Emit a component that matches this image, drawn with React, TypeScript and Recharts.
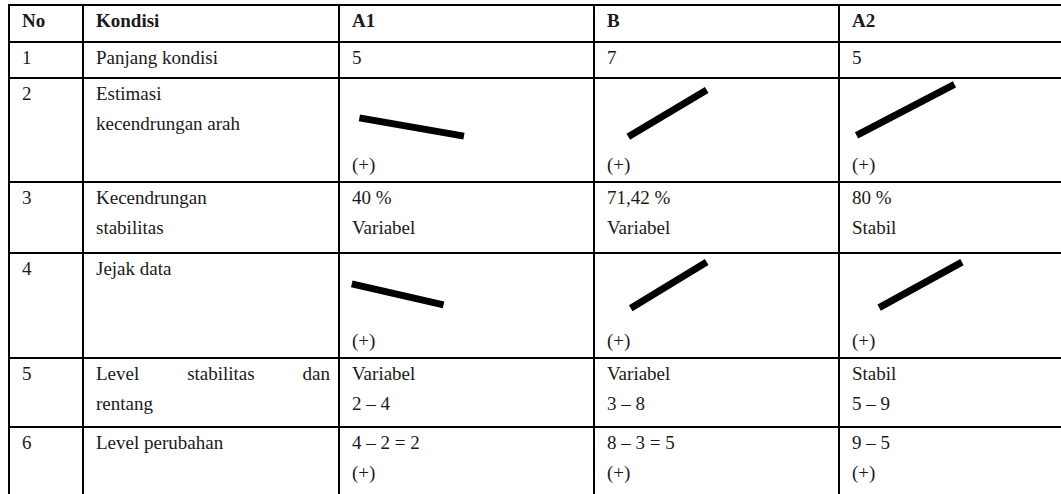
import React from "react";
import { LineChart, Line, XAxis, YAxis } from "recharts";

// table text
const headers = ["No", "Kondisi", "A1", "B", "A2"];
const nomor = ["1", "2", "3", "4", "5", "6"];
const kondisi = [
  ["Panjang kondisi"],
  ["Estimasi", "kecendrungan arah"],
  ["Kecendrungan", "stabilitas"],
  ["Jejak data"],
  ["Level stabilitas dan", "rentang"],
  ["Level perubahan"],
];
const panjang = ["5", "7", "5"];
const arahTanda = ["(+)", "(+)", "(+)"];
const stabilitasPersen = ["40 %", "71,42 %", "80 %"];
const stabilitasLabel = ["Variabel", "Variabel", "Stabil"];
const jejakTanda = ["(+)", "(+)", "(+)"];
const levelLabel = ["Variabel", "Variabel", "Stabil"];
const rentang = ["2 – 4", "3 – 8", "5 – 9"];
const perubahan = ["4 – 2 = 2", "8 – 3 = 5", "9 – 5"];
const perubahanTanda = ["(+)", "(+)", "(+)"];

// trend sketches, x/y in percent of the cell drawing area (y up)
const arahA1 = [{ x: 8, y: 43 }, { x: 49, y: 17 }];
const arahB = [{ x: 14, y: 16 }, { x: 46, y: 83 }];
const arahA2 = [{ x: 7, y: 18 }, { x: 46, y: 91 }];
const jejakA1 = [{ x: 5, y: 56 }, { x: 41, y: 26 }];
const jejakB = [{ x: 15, y: 21 }, { x: 46, y: 87 }];
const jejakA2 = [{ x: 16, y: 22 }, { x: 49, y: 87 }];

const colEdges = [9, 83, 339, 594, 839, 1090];
const rowEdges = [5, 42, 78, 182, 253, 358, 427, 500];
const PAD = 13;
const LINE_H = 30;
const TREND_H = 70;

const font = "'Liberation Serif', 'Times New Roman', Tinos, serif";

const Text = ({
  r,
  c,
  lines,
  bold,
  justifyFirst,
}: {
  r: number;
  c: number;
  lines: string[];
  bold?: boolean;
  justifyFirst?: boolean;
}) => {
  const left = colEdges[c] + PAD;
  const width = colEdges[c + 1] - colEdges[c] - PAD - 9;
  return (
    <div
      style={{
        position: "absolute",
        left,
        top: rowEdges[r] + 1,
        width,
        fontWeight: bold ? 700 : 400,
      }}
    >
      {lines.map((t, i) => (
        <div
          key={i}
          style={{
            height: LINE_H,
            lineHeight: `${LINE_H}px`,
            whiteSpace: "nowrap",
            display: justifyFirst && i === 0 ? "flex" : "block",
            justifyContent: "space-between",
          }}
        >
          {justifyFirst && i === 0
            ? t.split(" ").map((w, j) => <span key={j}>{w}</span>)
            : t}
        </div>
      ))}
    </div>
  );
};

const BottomText = ({ r, c, text }: { r: number; c: number; text: string }) => (
  <div
    style={{
      position: "absolute",
      left: colEdges[c] + PAD,
      top: rowEdges[r + 1] - 32,
      lineHeight: `${LINE_H}px`,
      whiteSpace: "nowrap",
    }}
  >
    {text}
  </div>
);

const Trend = ({
  r,
  c,
  data,
}: {
  r: number;
  c: number;
  data: { x: number; y: number }[];
}) => {
  const w = colEdges[c + 1] - colEdges[c];
  return (
    <div
      style={{
        position: "absolute",
        left: colEdges[c],
        top: rowEdges[r],
        width: w,
        height: TREND_H,
      }}
    >
      <LineChart
        width={w}
        height={TREND_H}
        data={data}
        margin={{ top: 0, right: 0, left: 0, bottom: 0 }}
      >
        <XAxis type="number" dataKey="x" domain={[0, 100]} hide />
        <YAxis type="number" domain={[0, 100]} hide />
        <Line
          dataKey="y"
          stroke="#000"
          strokeWidth={7}
          dot={false}
          activeDot={false}
          isAnimationActive={false}
        />
      </LineChart>
    </div>
  );
};

export default function App() {
  const phaseCols = [2, 3, 4];
  const arah = [arahA1, arahB, arahA2];
  const jejak = [jejakA1, jejakB, jejakA2];

  return (
    <div
      style={{
        position: "absolute",
        left: 0,
        top: 0,
        width: 1061,
        height: 494,
        overflow: "hidden",
        background: "#fff",
        fontFamily: font,
        fontSize: 19,
        color: "#1a1a1a",
      }}
    >
      {rowEdges.map((y, i) => (
        <div
          key={"h" + i}
          style={{
            position: "absolute",
            left: colEdges[0] - 1,
            top: y - 1,
            width: 1100,
            height: 2,
            background: "#000",
          }}
        />
      ))}
      {colEdges.map((x, i) => (
        <div
          key={"v" + i}
          style={{
            position: "absolute",
            left: x - 1,
            top: rowEdges[0] - 1,
            width: 2,
            height: 520,
            background: "#000",
          }}
        />
      ))}

      {headers.map((h, c) => (
        <Text key={"hd" + c} r={0} c={c} lines={[h]} bold />
      ))}
      {nomor.map((n, i) => (
        <Text key={"no" + i} r={i + 1} c={0} lines={[n]} />
      ))}
      {kondisi.map((k, i) => (
        <Text key={"k" + i} r={i + 1} c={1} lines={k} justifyFirst={i === 4} />
      ))}

      {phaseCols.map((c, p) => (
        <React.Fragment key={"p" + p}>
          <Text r={1} c={c} lines={[panjang[p]]} />
          <Trend r={2} c={c} data={arah[p]} />
          <BottomText r={2} c={c} text={arahTanda[p]} />
          <Text r={3} c={c} lines={[stabilitasPersen[p], stabilitasLabel[p]]} />
          <Trend r={4} c={c} data={jejak[p]} />
          <BottomText r={4} c={c} text={jejakTanda[p]} />
          <Text r={5} c={c} lines={[levelLabel[p], rentang[p]]} />
          <Text r={6} c={c} lines={[perubahan[p], perubahanTanda[p]]} />
        </React.Fragment>
      ))}
    </div>
  );
}
